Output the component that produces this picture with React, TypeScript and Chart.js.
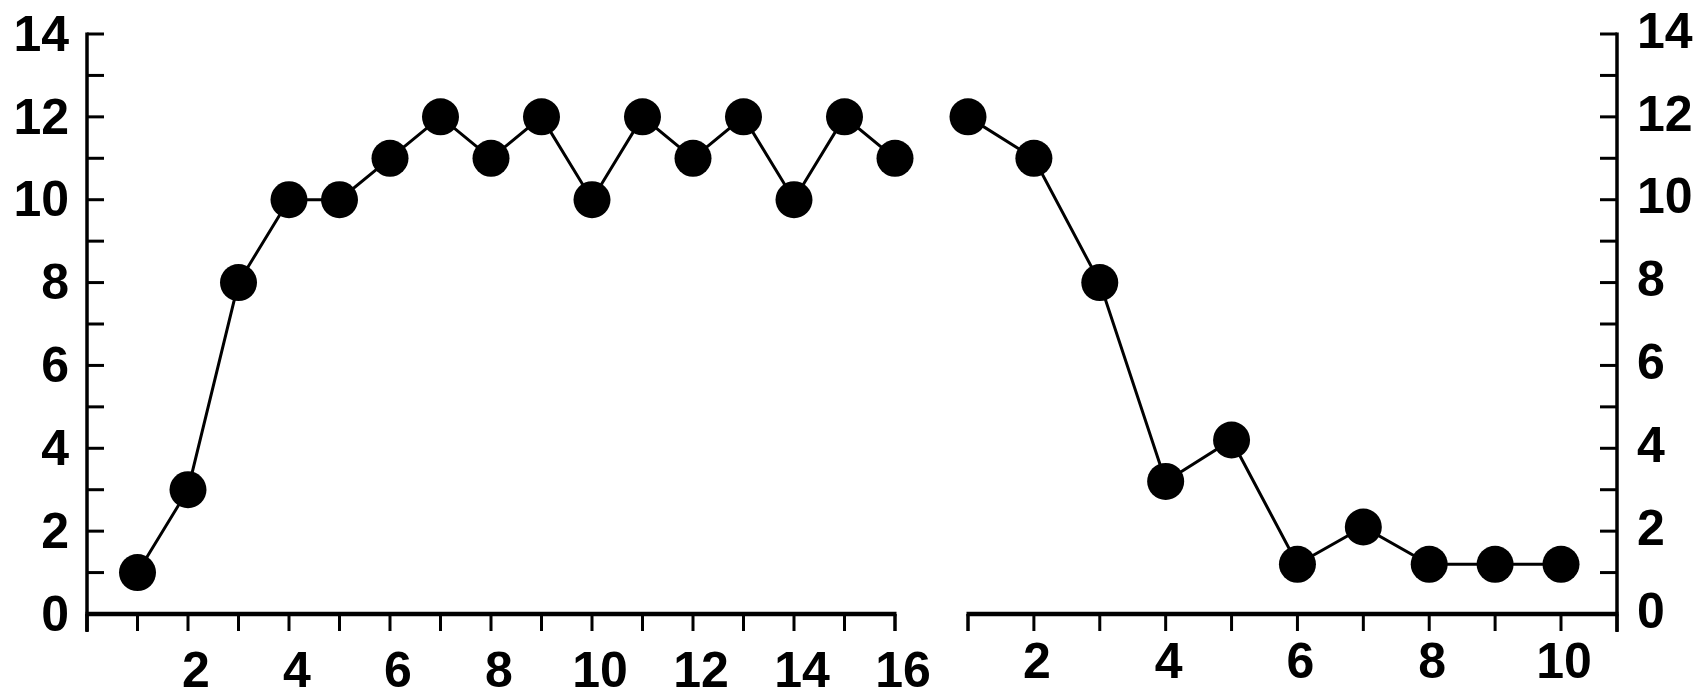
import React, { useEffect, useRef } from "react";
import { Chart, registerables } from "chart.js";

Chart.register(...registerables);

// ---- data ----
const leftX = [1, 2, 3, 4, 5, 6, 7, 8, 9, 10, 11, 12, 13, 14, 15, 16];
const leftY = [1, 3, 8, 10, 10, 11, 12, 11, 12, 10, 12, 11, 12, 10, 12, 11];
const rightX = [1, 2, 3, 4, 5, 6, 7, 8, 9, 10];
const rightY = [12, 11, 8, 3.2, 4.2, 1.2, 2.1, 1.2, 1.2, 1.2];
const yTickLabels = [0, 2, 4, 6, 8, 10, 12, 14];
const leftXTickLabels = [2, 4, 6, 8, 10, 12, 14, 16];
const rightXTicks = [1, 2, 3, 4, 5, 6, 7, 8, 9, 10];
const rightXTickLabels = [2, 4, 6, 8, 10];

const FONT = { family: "'Liberation Sans', Arial, sans-serif", size: 50, weight: "bold" as const };

const axesPlugin = {
  id: "axesDraw",
  afterDraw(chart: any, _args: any, opts: any) {
    const ctx = chart.ctx;
    const xs = chart.scales.x;
    const ys = chart.scales.y;
    const { left, right, top, bottom } = chart.chartArea;
    const side = opts.side || "left";
    const yx = side === "left" ? left : right;
    ctx.save();
    ctx.strokeStyle = "#000";
    ctx.lineCap = "butt";
    // x axis line
    ctx.lineWidth = 4.5;
    ctx.beginPath();
    ctx.moveTo(left - 1.5, bottom);
    ctx.lineTo(right + 1.5, bottom);
    ctx.stroke();
    // y axis line
    ctx.lineWidth = 3.5;
    ctx.beginPath();
    ctx.moveTo(yx, top - 1.5);
    ctx.lineTo(yx, bottom + 18);
    ctx.stroke();
    // x ticks (downward)
    ctx.lineWidth = 3;
    const xPix: number[] = xs.ticks.map((t: any) => xs.getPixelForValue(t.value));
    xPix.push(left, right);
    xPix.forEach((px) => {
      ctx.beginPath();
      ctx.moveTo(px, bottom);
      ctx.lineTo(px, bottom + 17);
      ctx.stroke();
    });
    // y ticks (inward)
    const dir = side === "left" ? 1 : -1;
    ys.ticks.forEach((t: any) => {
      const py = ys.getPixelForValue(t.value);
      ctx.beginPath();
      ctx.moveTo(yx, py);
      ctx.lineTo(yx + dir * 17, py);
      ctx.stroke();
    });
    ctx.restore();
  },
};

function makeDataset(xs: number[], ys: number[]) {
  return {
    data: xs.map((x, i) => ({ x, y: ys[i] })),
    borderColor: "#000",
    borderWidth: 3,
    pointRadius: 18.5,
    pointBackgroundColor: "#000",
    pointBorderColor: "#000",
    pointBorderWidth: 0,
    showLine: true,
    clip: false as any,
    tension: 0,
  };
}

const fixX = (s: any) => {
  s.height = 86;
  s.paddingLeft = 0;
  s.paddingRight = 0;
};
const fixY = (s: any) => {
  s.width = s.options.position === "left" ? 87 : 86;
  s.paddingTop = 0;
  s.paddingBottom = 0;
};

function LeftChart() {
  const ref = useRef<HTMLCanvasElement>(null);
  useEffect(() => {
    const chart = new Chart(ref.current!, {
      type: "scatter",
      data: { datasets: [makeDataset(leftX, leftY)] },
      plugins: [axesPlugin],
      options: {
        animation: false,
        responsive: false,
        devicePixelRatio: 1,
        layout: { padding: { top: 34, right: 65, left: 0, bottom: 0 } },
        plugins: { legend: { display: false }, tooltip: { enabled: false }, axesDraw: { side: "left" } } as any,
        scales: {
          x: {
            type: "linear",
            position: "bottom",
            min: 0,
            max: 16,
            grid: { display: false, drawTicks: false },
            border: { display: false },
            ticks: {
              stepSize: 1,
              autoSkip: false,
              maxRotation: 0,
              minRotation: 0,
              padding: 29,
              labelOffset: 8,
              color: "#000",
              font: FONT,
              callback: (v: any) => (leftXTickLabels.includes(Number(v)) ? String(v) : ""),
            },
            afterFit: fixX,
          },
          y: {
            type: "linear",
            position: "left",
            min: 0,
            max: 14,
            grid: { display: false, drawTicks: false },
            border: { display: false },
            ticks: {
              stepSize: 1,
              autoSkip: false,
              padding: 18,
              labelOffset: 3,
              color: "#000",
              font: FONT,
              callback: (v: any) => (yTickLabels.includes(Number(v)) ? String(v) : ""),
            },
            afterFit: fixY,
          },
        },
      },
    });
    return () => chart.destroy();
  }, []);
  return (
    <canvas
      ref={ref}
      width={960}
      height={700}
      style={{ position: "absolute", left: 0, top: 0, width: 960, height: 700 }}
    />
  );
}

function RightChart() {
  const ref = useRef<HTMLCanvasElement>(null);
  useEffect(() => {
    const chart = new Chart(ref.current!, {
      type: "scatter",
      data: { datasets: [makeDataset(rightX, rightY)] },
      plugins: [axesPlugin],
      options: {
        animation: false,
        responsive: false,
        devicePixelRatio: 1,
        layout: { padding: { top: 34, right: 0, left: 48, bottom: 0 } },
        plugins: { legend: { display: false }, tooltip: { enabled: false }, axesDraw: { side: "right" } } as any,
        scales: {
          x: {
            type: "linear",
            position: "bottom",
            min: 1,
            max: 10.85,
            grid: { display: false, drawTicks: false },
            border: { display: false },
            afterBuildTicks: (s: any) => {
              s.ticks = rightXTicks.map((v) => ({ value: v }));
            },
            ticks: {
              autoSkip: false,
              maxRotation: 0,
              minRotation: 0,
              padding: 20,
              labelOffset: 3,
              color: "#000",
              font: FONT,
              callback: (v: any) => (rightXTickLabels.includes(Number(v)) ? String(v) : ""),
            },
            afterFit: fixX,
          },
          y: {
            type: "linear",
            position: "right",
            min: 0,
            max: 14,
            grid: { display: false, drawTicks: false },
            border: { display: false },
            ticks: {
              stepSize: 1,
              autoSkip: false,
              padding: 20,
              color: "#000",
              font: FONT,
              callback: (v: any) => (yTickLabels.includes(Number(v)) ? String(v) : ""),
            },
            afterFit: fixY,
          },
        },
      },
    });
    return () => chart.destroy();
  }, []);
  return (
    <canvas
      ref={ref}
      width={783}
      height={700}
      style={{ position: "absolute", left: 920, top: 0, width: 783, height: 700 }}
    />
  );
}

export default function App() {
  return (
    <div
      style={{
        position: "fixed",
        left: 0,
        top: 0,
        width: 1703,
        height: 700,
        background: "#fff",
        overflow: "hidden",
      }}
    >
      <LeftChart />
      <RightChart />
    </div>
  );
}
